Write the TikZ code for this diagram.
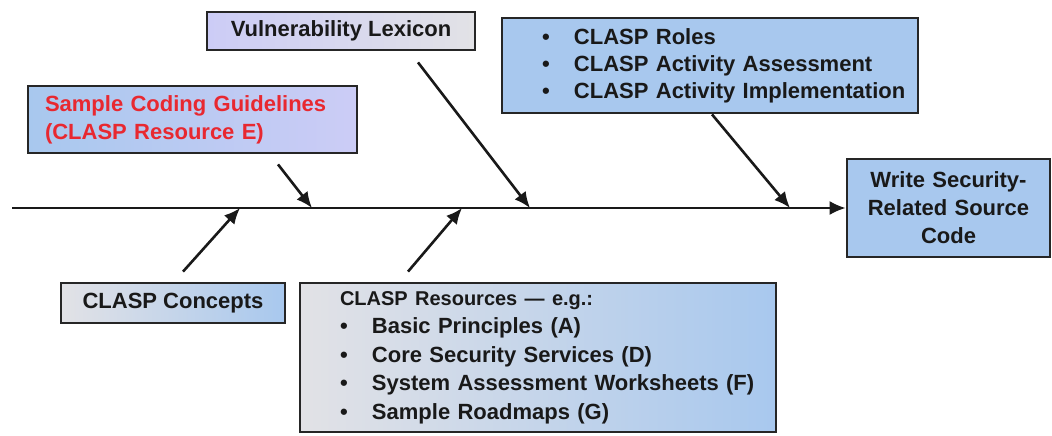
\documentclass[tikz,border=0pt]{standalone}
\usepackage{fontspec}
\setmainfont{Liberation Sans}
\usetikzlibrary{arrows.meta,positioning}
\definecolor{boxblue}{RGB}{168,200,238}
\definecolor{boxlav}{RGB}{204,204,246}
\definecolor{boxgray}{RGB}{226,226,230}
\definecolor{inkred}{RGB}{232,40,48}
\tikzset{
  fishBox/.style = {draw=black!85, line width=1.4pt, inner sep=0pt,
    font=\bfseries\fontsize{11}{14}\selectfont, text=black!90},
  listBox/.style = {fishBox, align=left},
  branch/.style = {-{Latex[length=8pt,width=7pt]}, line width=1.3pt, black!90}
    % arrow from a cause box onto the spine
}
\newcommand{\bul}[1]{\hspace*{20pt}\makebox[16pt][l]{\textbullet}#1}

\begin{document}
\begin{tikzpicture}[x=0.5pt, y=-0.5pt]
\useasboundingbox (0,0) rectangle (1052,435);
% causes above the spine
\node[fishBox, minimum width=134pt, minimum height=19pt,
  left color=boxlav, right color=boxgray] (lexicon) at (341,31) {Vulnerability Lexicon};
\node[listBox, text=inkred, text width=147.5pt, inner xsep=8.5pt, minimum height=33.5pt,
  left color=boxblue, right color=boxlav] (guidelines) at (192.5,119.5)
  {Sample Coding Guidelines\\(CLASP Resource E)};
\node[listBox, text width=208pt, minimum height=47.5pt,
  font=\bfseries\fontsize{11}{13.5}\selectfont,
  left color=boxblue, middle color=boxlav, right color=boxblue] (roles) at (710,65.5)
  {\bul{CLASP Roles}\\ \bul{CLASP Activity Assessment}\\ \bul{CLASP Activity Implementation}};
% effect
\node[fishBox, fill=boxblue, align=center, text width=101.5pt, minimum height=49pt]
  (goal) at (948.5,208) {Write Security-\\Related Source\\Code};
% causes below the spine
\node[fishBox, minimum width=112pt, minimum height=20pt,
  left color=boxgray, right color=boxblue] (concepts) at (173,303) {CLASP Concepts};
\node[listBox, text width=238pt, minimum height=74.5pt,
  font=\bfseries\fontsize{11}{14.25}\selectfont,
  left color=boxgray, middle color=boxlav, right color=boxblue] (resources) at (538,357.5)
  {\hspace*{20pt}{\fontsize{10}{14.25}\selectfont CLASP Resources --- e.g.:}\\
   \bul{Basic Principles (A)}\\ \bul{Core Security Services (D)}\\
   \bul{System Assessment Worksheets (F)}\\ \bul{Sample Roadmaps (G)}};

% spine
\coordinate (tail) at (12,208);
\draw[-{Latex[length=8pt,width=7pt]}, line width=1pt, black!90] (tail) -- (tail -| goal.west);
\coordinate (c1) at (312,208);
\coordinate (c2) at (530,208);
\coordinate (c3) at (790,208);
\coordinate (c4) at (240,208);
\coordinate (c5) at (462,208);
\draw[branch] ([xshift=42.75pt,yshift=-5pt]guidelines.south) -- (c1);
\draw[branch] ([xshift=38.5pt,yshift=-5.5pt]lexicon.south) -- (c2);
\draw[branch] ([xshift=1pt]roles.south) -- (c3);
\draw[branch] ([xshift=5pt,yshift=5pt]concepts.north) -- (c4);
\draw[branch] ([xshift=-65pt,yshift=5pt]resources.north) -- (c5);
\end{tikzpicture}
\end{document}
